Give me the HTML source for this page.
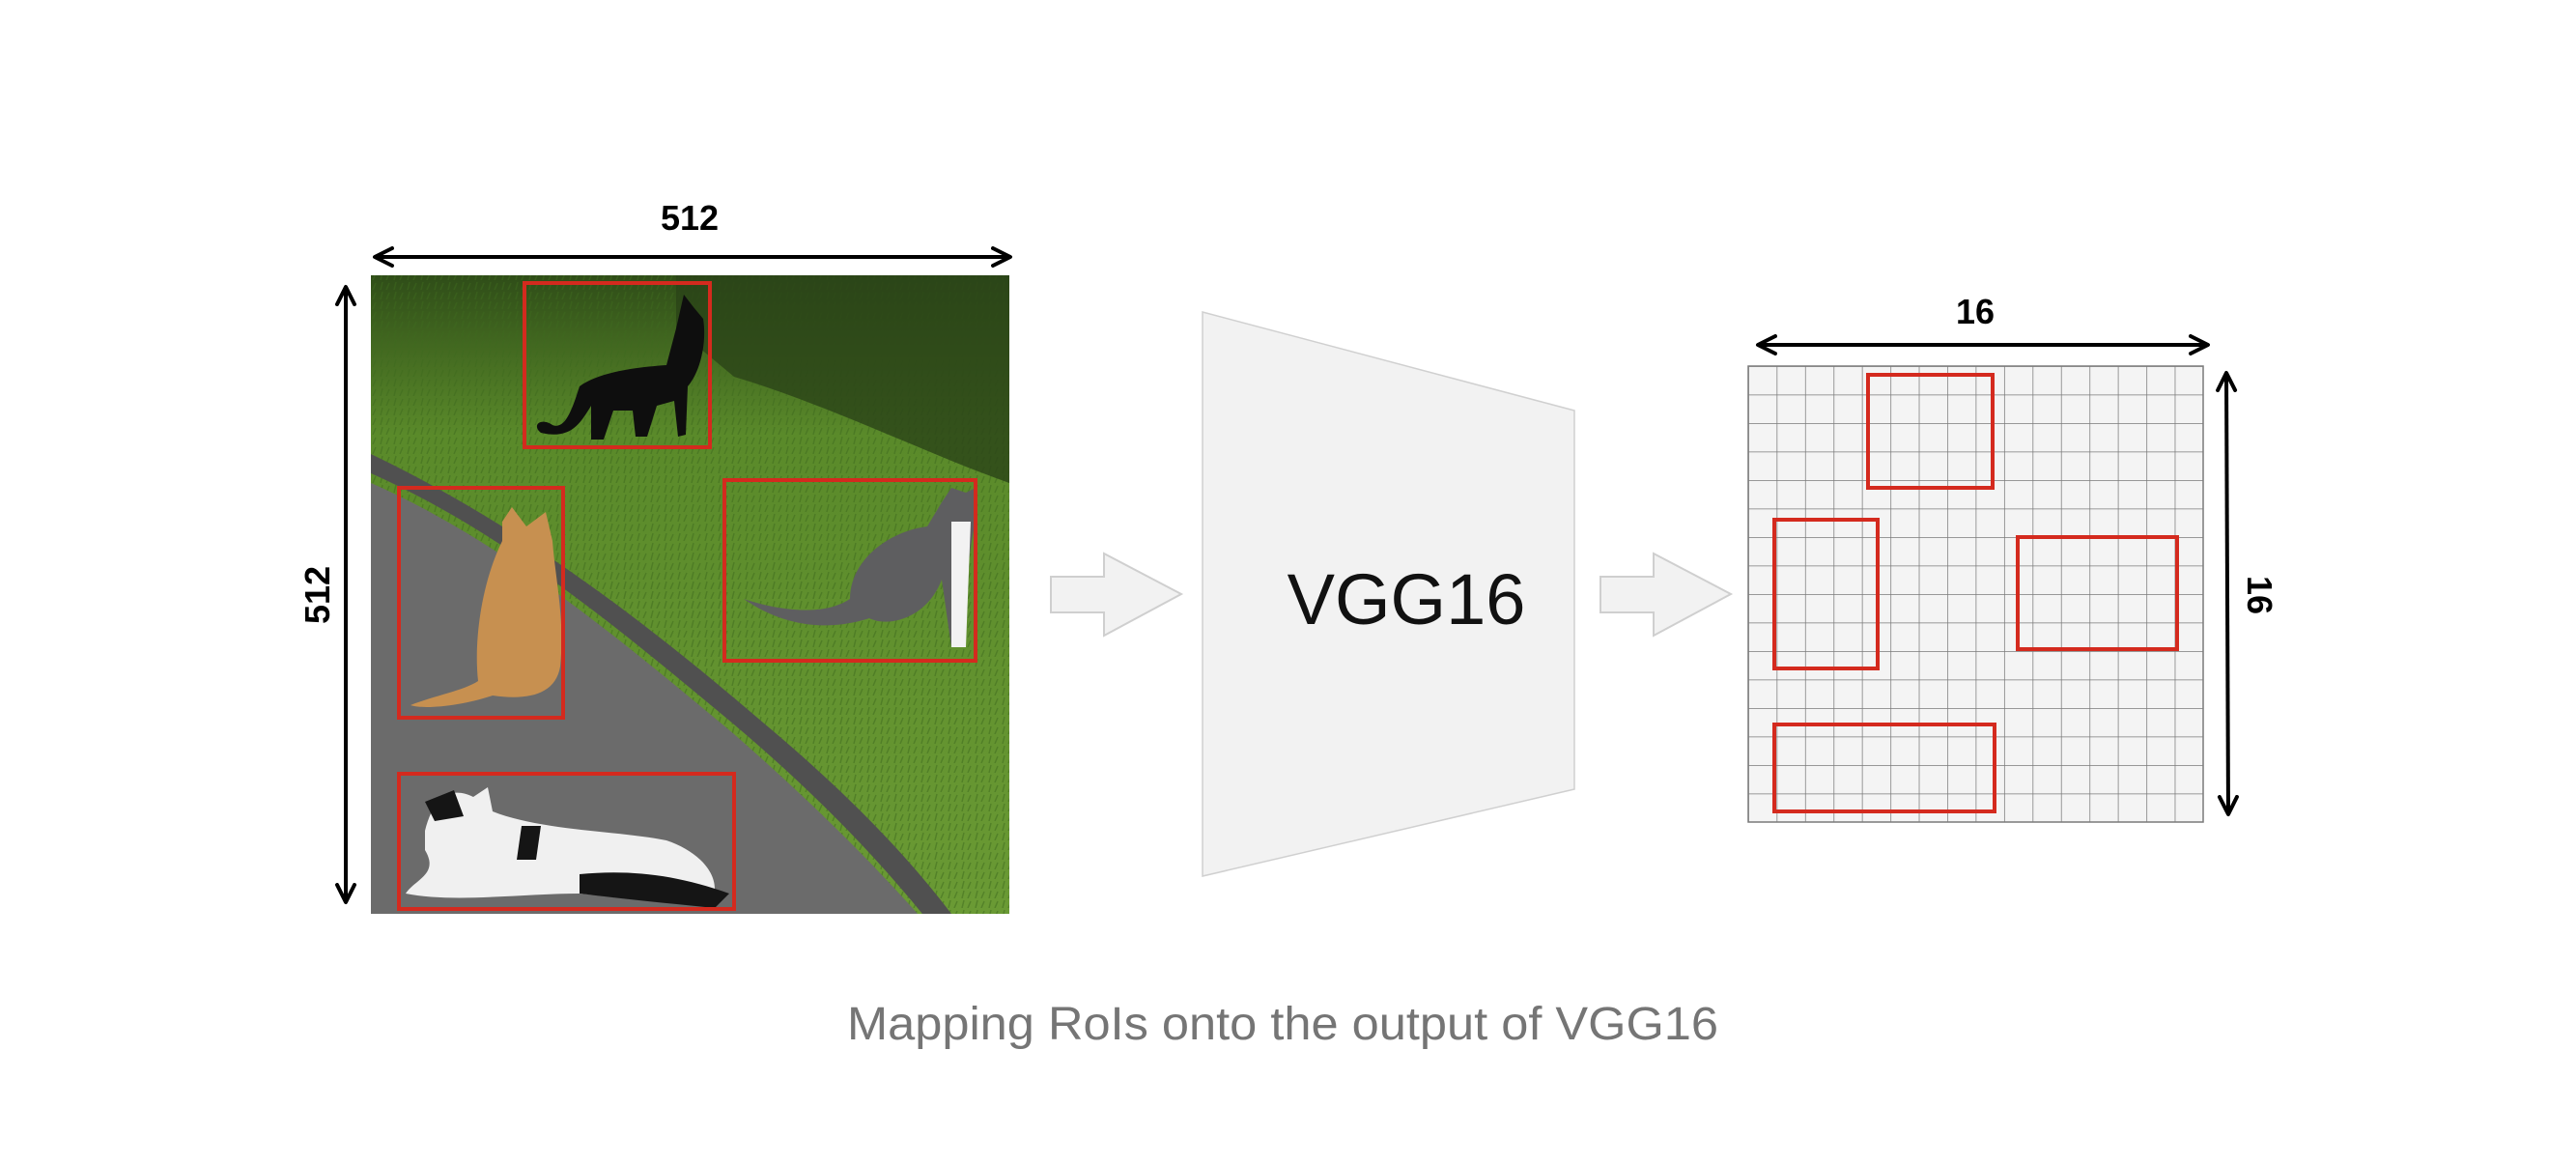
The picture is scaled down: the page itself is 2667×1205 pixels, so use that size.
<!DOCTYPE html>
<html><head><meta charset="utf-8"><style>
html,body{margin:0;padding:0;background:#fff;}
svg{display:block;}
</style></head><body>
<svg width="2667" height="1205" viewBox="0 0 2667 1205" xmlns="http://www.w3.org/2000/svg">
<defs>
<marker id="ah" markerWidth="24" markerHeight="24" refX="20" refY="11" orient="auto-start-reverse" markerUnits="userSpaceOnUse">
<path d="M2,2 L20,11 L2,20" fill="none" stroke="#000" stroke-width="4" stroke-linejoin="round" stroke-linecap="round"/>
</marker>
<pattern id="grid" x="1810" y="379" width="29.44" height="29.5" patternUnits="userSpaceOnUse">
<rect width="29.44" height="29.5" fill="#f4f4f4"/>
<path d="M0,0 L29.44,0 M0,0 L0,29.5" stroke="#7a7a7a" stroke-width="1.5"/>
</pattern>
<linearGradient id="grass" x1="0" y1="0" x2="0" y2="1">
<stop offset="0" stop-color="#2f4d18"/><stop offset="0.25" stop-color="#5a8a2a"/><stop offset="1" stop-color="#6a9a34"/>
</linearGradient>
<pattern id="tex" width="14" height="10" patternUnits="userSpaceOnUse">
<path d="M2,10 L4,2 M8,10 L11,3" stroke="#3e6a1e" stroke-width="1.5" opacity="0.5"/>
</pattern>
<clipPath id="pc"><rect x="384" y="285" width="661" height="661"/></clipPath>
</defs>

<!-- Photo -->
<g clip-path="url(#pc)">
<rect x="384" y="285" width="661" height="661" fill="url(#grass)"/>
<rect x="384" y="285" width="661" height="661" fill="url(#tex)"/>
<path d="M700,285 L1045,285 L1045,500 C960,470 860,420 760,390 L700,340 Z" fill="#2a4418" opacity="0.8"/>
<path d="M384,500 C520,560 640,660 760,760 C840,830 900,890 950,946 L384,946 Z" fill="#6b6b6b"/>
<path d="M384,490 C520,550 640,650 760,750 C845,822 905,885 955,946 L985,946 C935,880 870,815 790,748 C670,645 540,545 384,470 Z" fill="#505050"/>
<!-- black cat -->
<path d="M600,400 C620,385 660,380 690,378 L700,340 L708,305 L718,318 L728,330 C732,355 725,385 712,400 L710,450 L702,452 L698,415 L680,420 L670,452 L658,452 L655,425 L635,425 L625,455 L612,455 L612,420 C600,440 590,455 560,448 C550,440 560,432 572,440 C585,445 592,425 600,400 Z" fill="#0e0e0e"/>
<!-- orange cat -->
<path d="M520,540 L530,525 L545,545 L565,530 L572,560 C575,600 585,640 580,690 C575,720 545,725 510,720 C480,730 440,735 425,730 C450,720 480,715 495,705 C490,660 500,600 520,560 Z" fill="#c79050"/>
<!-- gray cat -->
<path d="M975,520 L985,505 L1000,510 L1010,505 L1010,540 C1005,560 1000,600 995,670 L985,670 L975,600 C960,640 920,650 900,640 C870,650 820,655 770,620 C800,630 850,640 880,620 C880,580 920,550 960,545 Z" fill="#5e5e60"/>
<path d="M985,540 L1005,540 L1000,670 L985,670 Z" fill="#f2f2f2"/>
<!-- bw cat -->
<path d="M440,860 C450,820 470,815 490,825 L505,815 L510,840 C560,860 640,860 690,870 C720,880 740,900 740,920 C720,935 650,930 600,925 C540,925 470,935 420,925 C430,910 455,905 440,880 Z" fill="#f0f0f0"/>
<path d="M440,830 L470,818 L480,845 L450,850 Z M540,855 L560,855 L555,890 L535,890 Z M600,905 C650,900 700,905 755,925 L740,940 C690,935 640,930 600,925 Z" fill="#151515"/>
</g>
<g fill="none" stroke="#d42a1e" stroke-width="4">
<rect x="543" y="293" width="192" height="170"/>
<rect x="413" y="505" width="170" height="238"/>
<rect x="750" y="497" width="260" height="187"/>
<rect x="413" y="801" width="347" height="140"/>
</g>

<!-- 512 arrows -->
<line x1="388" y1="266" x2="1046" y2="266" stroke="#000" stroke-width="4" marker-start="url(#ah)" marker-end="url(#ah)"/>
<line x1="358" y1="297" x2="358" y2="934" stroke="#000" stroke-width="4" marker-start="url(#ah)" marker-end="url(#ah)"/>
<text x="714" y="238" font-family="Liberation Sans, sans-serif" font-weight="bold" font-size="36" text-anchor="middle">512</text>
<text transform="translate(341,616) rotate(-90)" font-family="Liberation Sans, sans-serif" font-weight="bold" font-size="36" text-anchor="middle">512</text>

<!-- block arrows -->
<path d="M1088,597 L1143,597 L1143,573 L1223,615 L1143,658 L1143,634 L1088,634 Z" fill="#f2f2f2" stroke="#cfcfcf" stroke-width="2"/>
<path d="M1657,597 L1712,597 L1712,573 L1792,615 L1712,658 L1712,634 L1657,634 Z" fill="#f2f2f2" stroke="#cfcfcf" stroke-width="2"/>

<!-- trapezoid -->
<path d="M1245,323 L1630,425 L1630,817 L1245,907 Z" fill="#f2f2f2" stroke="#d0d0d0" stroke-width="1.5"/>
<text x="1456" y="646" font-family="Liberation Sans, sans-serif" font-size="74" text-anchor="middle" fill="#111">VGG16</text>

<!-- grid -->
<rect x="1810" y="379" width="471" height="472" fill="url(#grid)" stroke="#7a7a7a" stroke-width="1.5"/>
<g fill="none" stroke="#d42a1e" stroke-width="4">
<rect x="1934" y="388" width="129" height="117"/>
<rect x="1837" y="538" width="107" height="154"/>
<rect x="2089" y="556" width="165" height="116"/>
<rect x="1837" y="750" width="228" height="90"/>
</g>
<line x1="1820" y1="357" x2="2286" y2="357" stroke="#000" stroke-width="4" marker-start="url(#ah)" marker-end="url(#ah)"/>
<line x1="2305" y1="386" x2="2307" y2="843" stroke="#000" stroke-width="4" marker-start="url(#ah)" marker-end="url(#ah)"/>
<text x="2045" y="335" font-family="Liberation Sans, sans-serif" font-weight="bold" font-size="36" text-anchor="middle">16</text>
<text transform="translate(2327,616) rotate(90)" font-family="Liberation Sans, sans-serif" font-weight="bold" font-size="36" text-anchor="middle">16</text>

<!-- caption -->
<text x="877" y="1076" font-family="Liberation Sans, sans-serif" font-size="48" fill="#757575" textLength="902" lengthAdjust="spacingAndGlyphs">Mapping RoIs onto the output of VGG16</text>
</svg>
</body></html>
